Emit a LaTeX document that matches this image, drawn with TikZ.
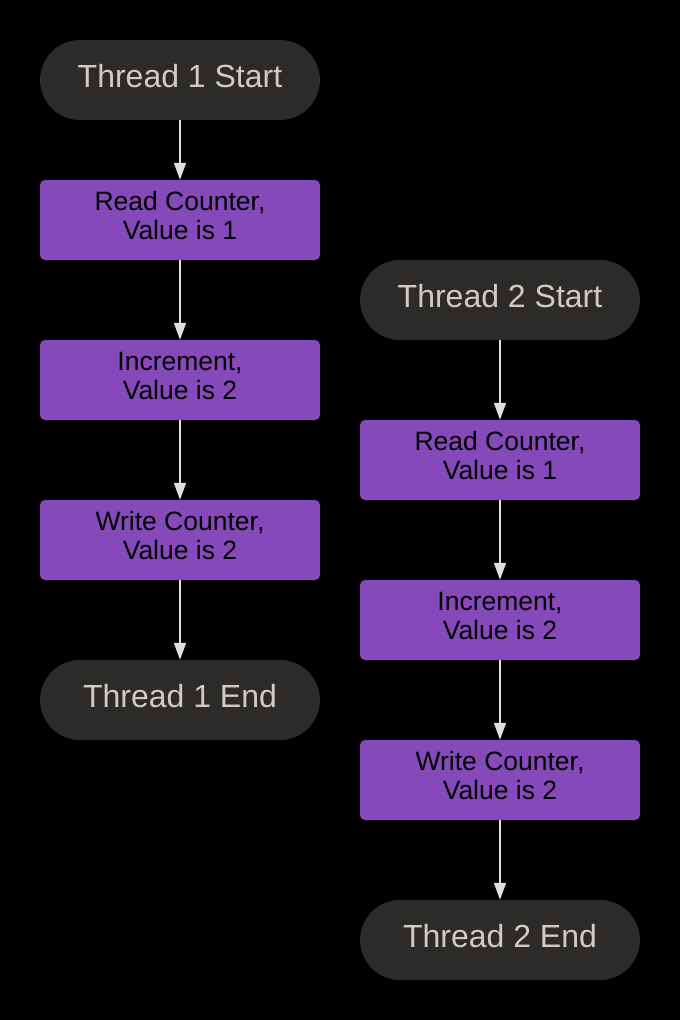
\documentclass[tikz,border=0pt]{standalone}
\usepackage{fontspec}
\setmainfont{Liberation Sans}
\usetikzlibrary{arrows.meta}
\definecolor{termfill}{HTML}{2D2B29}
\definecolor{termtext}{HTML}{D2CBC2}
\definecolor{procfill}{HTML}{8549BA}
\definecolor{arrowcol}{HTML}{E0E0E0}
\tikzset{
  term/.style={fill=termfill, rounded corners=40pt, minimum width=280pt, minimum height=80pt, inner sep=0pt, text=termtext, text height=23pt, text depth=9pt, font=\fontsize{32}{36}\selectfont},
  proc/.style={fill=procfill, rounded corners=5pt, minimum width=280pt, minimum height=80pt, inner sep=0pt, text=black, align=center, text height=48pt, text depth=10pt, font=\fontsize{26.5}{29}\selectfont},
  flow/.style={draw=arrowcol, line width=1.5pt, -{Triangle[length=17pt,width=12pt]}}
}
\begin{document}
\begin{tikzpicture}[x=1pt,y=-1pt]
\fill[black] (0,0) rectangle (680,1020);
\useasboundingbox (0,0) rectangle (680,1020);
\node[term] (s1) at (180,80) {Thread 1 Start};
\node[proc] (r1) at (180,220) {Read Counter,\\Value is 1};
\node[proc] (i1) at (180,380) {Increment,\\Value is 2};
\node[proc] (w1) at (180,540) {Write Counter,\\Value is 2};
\node[term] (e1) at (180,700) {Thread 1 End};
\node[term] (s2) at (500,300) {Thread 2 Start};
\node[proc] (r2) at (500,460) {Read Counter,\\Value is 1};
\node[proc] (i2) at (500,620) {Increment,\\Value is 2};
\node[proc] (w2) at (500,780) {Write Counter,\\Value is 2};
\node[term] (e2) at (500,940) {Thread 2 End};
\draw[flow] (s1) -- (r1);
\draw[flow] (r1) -- (i1);
\draw[flow] (i1) -- (w1);
\draw[flow] (w1) -- (e1);
\draw[flow] (s2) -- (r2);
\draw[flow] (r2) -- (i2);
\draw[flow] (i2) -- (w2);
\draw[flow] (w2) -- (e2);
\end{tikzpicture}
\end{document}
